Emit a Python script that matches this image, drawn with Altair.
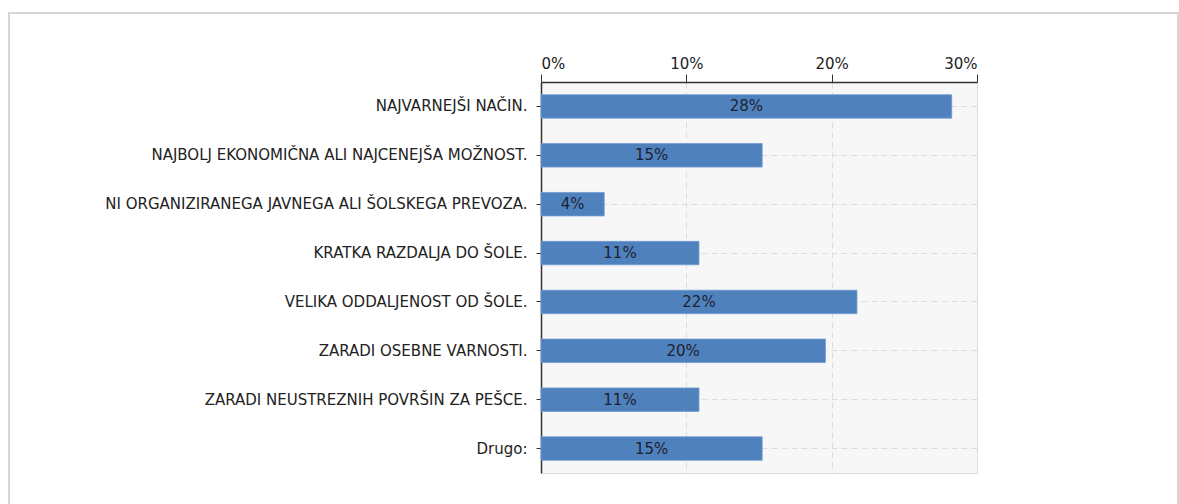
import altair as alt
import pandas as pd

categories = [
    "NAJVARNEJŠI NAČIN.",
    "NAJBOLJ EKONOMIČNA ALI NAJCENEJŠA MOŽNOST.",
    "NI ORGANIZIRANEGA JAVNEGA ALI ŠOLSKEGA PREVOZA.",
    "KRATKA RAZDALJA DO ŠOLE.",
    "VELIKA ODDALJENOST OD ŠOLE.",
    "ZARADI OSEBNE VARNOSTI.",
    "ZARADI NEUSTREZNIH POVRŠIN ZA PEŠCE.",
    "Drugo:",
]
values = [0.2826, 0.1522, 0.0435, 0.1087, 0.2174, 0.1957, 0.1087, 0.1522]
labels = ["28%", "15%", "4%", "11%", "22%", "20%", "11%", "15%"]
x_ticks = [0, 0.1, 0.2, 0.3]

df = pd.DataFrame({"cat": categories, "val": values, "lab": labels})

FONT = "DejaVu Sans"

y_enc = alt.Y(
    "cat:N",
    sort=categories,
    title=None,
    scale=alt.Scale(paddingInner=0.52, paddingOuter=0.26),
    axis=alt.Axis(
        orient="left",
        bandPosition=0.5,
        domainColor="#333333",
        domainWidth=1.5,
        tickColor="#333333",
        tickSize=5,
        labelPadding=9,
        labelColor="#222222",
        labelFont=FONT,
        labelFontSize=15,
        labelLimit=600,
        grid=True,
        gridColor="#dcdcdc",
        gridDash=[6, 4],
        gridWidth=1,
    ),
)

base = alt.Chart(df)

bars = base.mark_bar(color="#4f81bd", stroke="#6e9ad0", strokeWidth=0.8).encode(
    x=alt.X(
        "val:Q",
        title=None,
        scale=alt.Scale(domain=[0, 0.3], nice=False),
        axis=alt.Axis(
            orient="top",
            values=x_ticks,
            format=".0%",
            domainColor="#333333",
            domainWidth=1.5,
            tickColor="#333333",
            tickSize=8,
            labelPadding=3,
            labelColor="#222222",
            labelFont=FONT,
            labelFontSize=15,
            grid=True,
            gridColor="#dcdcdc",
            gridDash=[6, 4],
            gridWidth=1,
        ),
    ),
    y=y_enc,
)

text = base.transform_calculate(mid="datum.val / 2").mark_text(
    font=FONT, fontSize=15, color="#1e2230", align="center", baseline="middle"
).encode(
    x=alt.X("mid:Q"),
    y=alt.Y("cat:N", sort=categories),
    text="lab:N",
)

frame = alt.Chart(pd.DataFrame({"a": [0]})).mark_rect(
    fill=None, stroke="#d6d6d6", strokeWidth=2
).encode(
    x=alt.value(-532), x2=alt.value(637), y=alt.value(-69), y2=alt.value(440)
)

chart = alt.layer(bars, text, frame).properties(
    width=436,
    height=391,
    padding={"left": 541, "top": 82, "right": 202, "bottom": 31},
    autosize=alt.AutoSizeParams(type="none"),
).configure_view(
    fill="#f7f7f7", stroke="#d8d8d8", strokeWidth=1
)

chart.save("out.html", embed_options={"renderer": "svg", "actions": False})
